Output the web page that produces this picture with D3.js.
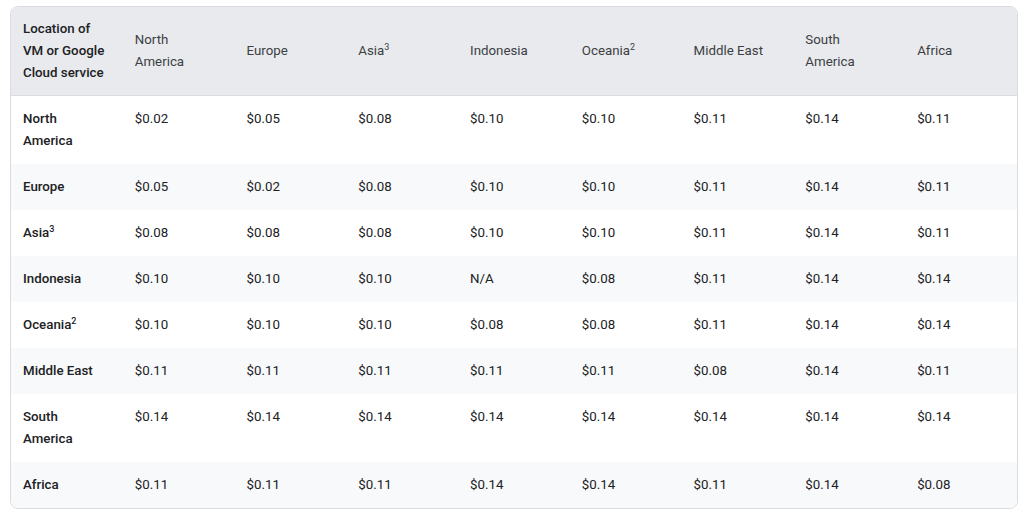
<!DOCTYPE html>
<html>
<head>
<meta charset="utf-8">
<script src="https://cdn.jsdelivr.net/npm/d3@7"></script>
<style>
  body { margin: 0; background: #fff; font-family: Roboto, "Noto Sans", sans-serif; }
  .wrap { position: absolute; left: 10px; top: 6px; width: 1006px; border: 1px solid #dadce0; border-radius: 8px; overflow: hidden; }
  table { border-collapse: collapse; table-layout: fixed; width: 1006px; font-size: 13.3px; color: #202124; }
  th, td { padding: 12px 8px 12px 12px; line-height: 22px; text-align: left; white-space: pre-line; }
  thead th { background: #e8eaed; vertical-align: middle; font-weight: 400; color: #3c4043; border-bottom: 1px solid #dadce0; padding-top: 11px; padding-bottom: 11px; }
  thead th.first { font-weight: 500; color: #202124; }
  tbody td { vertical-align: top; }
  tbody td.first { font-weight: 500; }
  tbody tr:nth-child(even) { background: #f8f9fa; }
  sup { font-size: 9px; line-height: 0; }
</style>
</head>
<body>
<div class="wrap"><table id="t"></table></div>
<script>
// regions, with footnote marks
const corner = "Location of\nVM or Google\nCloud service";
const regions = ["North\nAmerica", "Europe", "Asia", "Indonesia", "Oceania", "Middle East", "South\nAmerica", "Africa"];
const notes = { "Asia": "3", "Oceania": "2" };

// price per GB, row = source, column = destination
const prices = [
  ["$0.02", "$0.05", "$0.08", "$0.10", "$0.10", "$0.11", "$0.14", "$0.11"],
  ["$0.05", "$0.02", "$0.08", "$0.10", "$0.10", "$0.11", "$0.14", "$0.11"],
  ["$0.08", "$0.08", "$0.08", "$0.10", "$0.10", "$0.11", "$0.14", "$0.11"],
  ["$0.10", "$0.10", "$0.10", "N/A",   "$0.08", "$0.11", "$0.14", "$0.14"],
  ["$0.10", "$0.10", "$0.10", "$0.08", "$0.08", "$0.11", "$0.14", "$0.14"],
  ["$0.11", "$0.11", "$0.11", "$0.11", "$0.11", "$0.08", "$0.14", "$0.11"],
  ["$0.14", "$0.14", "$0.14", "$0.14", "$0.14", "$0.14", "$0.14", "$0.14"],
  ["$0.11", "$0.11", "$0.11", "$0.14", "$0.14", "$0.11", "$0.14", "$0.08"]
];

const label = (sel) => sel.each(function (d) {
  const cell = d3.select(this);
  cell.text(d);
  if (notes[d]) cell.append("sup").text(notes[d]);
});

const table = d3.select("#t");
const head = table.append("thead").append("tr");
head.append("th").attr("class", "first").text(corner);
head.selectAll("th.col").data(regions).join("th").attr("class", "col").call(label);

const rows = table.append("tbody").selectAll("tr").data(prices).join("tr");
rows.append("td").attr("class", "first").data(regions).call(label);
rows.selectAll("td.v").data(d => d).join("td").attr("class", "v").text(d => d);
</script>
</body>
</html>
